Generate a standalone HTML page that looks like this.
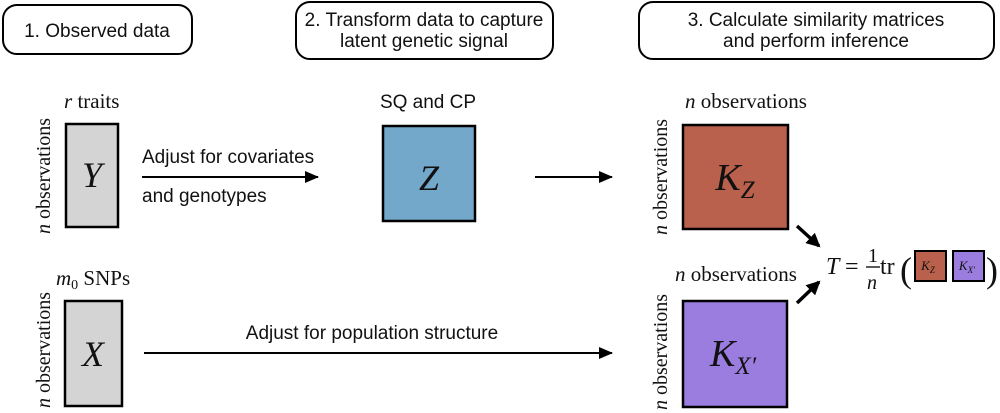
<!DOCTYPE html>
<html><head><meta charset="utf-8"><style>
html,body{margin:0;padding:0;background:#fff;}
svg{display:block;}
.s{font-family:"Liberation Sans",sans-serif;fill:#111;}
.r{font-family:"Liberation Serif",serif;fill:#111;}
</style></head><body>
<svg width="1000" height="413" viewBox="0 0 1000 413" xmlns="http://www.w3.org/2000/svg">
<defs>
<marker id="a" markerWidth="14" markerHeight="12" refX="13" refY="6" orient="auto" markerUnits="userSpaceOnUse"><path d="M0,0 L14,6 L0,12 Z" fill="#000"/></marker>
<marker id="b" markerWidth="14" markerHeight="14" refX="12" refY="7" orient="auto" markerUnits="userSpaceOnUse"><path d="M0,0 L14,7 L0,14 Z" fill="#000"/></marker>
</defs>
<rect x="3" y="5" width="189" height="49" rx="14" fill="#fff" stroke="#000" stroke-width="2"/>
<text class="s" x="97" y="37" font-size="19" text-anchor="middle">1. Observed data</text>
<rect x="296" y="2" width="257" height="57" rx="14" fill="#fff" stroke="#000" stroke-width="2"/>
<text class="s" x="424" y="26" font-size="19" text-anchor="middle">2. Transform data to capture</text>
<text class="s" x="424" y="47" font-size="19" text-anchor="middle">latent genetic signal</text>
<rect x="639" y="2" width="355" height="57" rx="14" fill="#fff" stroke="#000" stroke-width="2"/>
<text class="s" x="816" y="26" font-size="19" text-anchor="middle">3. Calculate similarity matrices</text>
<text class="s" x="816" y="47" font-size="19" text-anchor="middle">and perform inference</text>
<text class="r" x="64" y="108" font-size="21"><tspan font-style="italic">r</tspan>  traits</text>
<rect x="66" y="124" width="52" height="103" fill="#d4d4d4" stroke="#000" stroke-width="2.5"/>
<text class="r" x="92" y="187" font-size="36" font-style="italic" text-anchor="middle">Y</text>
<text class="r" transform="translate(50,176) rotate(-90)" font-size="20" text-anchor="middle"><tspan font-style="italic">n</tspan>  observations</text>
<line x1="142" y1="177" x2="318" y2="177" stroke="#000" stroke-width="2" marker-end="url(#a)"/>
<text class="s" x="142" y="163" font-size="19">Adjust for covariates</text>
<text class="s" x="142" y="202" font-size="19">and genotypes</text>
<text class="s" x="428" y="108" font-size="19" text-anchor="middle">SQ and CP</text>
<rect x="383" y="126" width="92" height="95" fill="#74a8cb" stroke="#000" stroke-width="2.5"/>
<text class="r" x="429" y="190" font-size="36" font-style="italic" text-anchor="middle">Z</text>
<line x1="535" y1="177" x2="612" y2="177" stroke="#000" stroke-width="2" marker-end="url(#a)"/>
<text class="r" x="685" y="108" font-size="21"><tspan font-style="italic">n</tspan>  observations</text>
<rect x="683" y="125" width="105" height="104" fill="#b9614c" stroke="#000" stroke-width="2.5"/>
<text class="r" x="735" y="190" font-size="38" font-style="italic" text-anchor="middle">K<tspan font-size="25" dy="8">Z</tspan></text>
<text class="r" transform="translate(667,177) rotate(-90)" font-size="20" text-anchor="middle"><tspan font-style="italic">n</tspan>  observations</text>
<text class="r" x="56" y="285" font-size="21"><tspan font-style="italic">m</tspan><tspan font-size="14" dy="4">0</tspan><tspan dy="-4"> SNPs</tspan></text>
<rect x="65" y="301" width="57" height="105" fill="#d4d4d4" stroke="#000" stroke-width="2.5"/>
<text class="r" x="93" y="366" font-size="36" font-style="italic" text-anchor="middle">X</text>
<text class="r" transform="translate(50,350) rotate(-90)" font-size="20" text-anchor="middle"><tspan font-style="italic">n</tspan>  observations</text>
<line x1="144" y1="353" x2="612" y2="353" stroke="#000" stroke-width="2" marker-end="url(#a)"/>
<text class="s" x="372" y="339" font-size="19" text-anchor="middle">Adjust for population structure</text>
<text class="r" x="675" y="281" font-size="21"><tspan font-style="italic">n</tspan>  observations</text>
<rect x="683" y="301" width="104" height="106" fill="#9b7de0" stroke="#000" stroke-width="2.5"/>
<text class="r" x="733" y="366" font-size="38" font-style="italic" text-anchor="middle">K<tspan font-size="25" dy="8">X′</tspan></text>
<text class="r" transform="translate(667,352) rotate(-90)" font-size="20" text-anchor="middle"><tspan font-style="italic">n</tspan>  observations</text>
<line x1="797" y1="226" x2="819" y2="246" stroke="#000" stroke-width="3.5" marker-end="url(#b)"/>
<line x1="797" y1="303" x2="819" y2="282" stroke="#000" stroke-width="3.5" marker-end="url(#b)"/>
<text class="r" x="826" y="274" font-size="24" font-style="italic">T</text>
<text class="r" x="845" y="274" font-size="24">=</text>
<text class="r" x="868" y="262" font-size="20">1</text>
<line x1="866" y1="267" x2="880" y2="267" stroke="#000" stroke-width="1.3"/>
<text class="r" x="867" y="289" font-size="20" font-style="italic">n</text>
<text class="r" x="880" y="274" font-size="24">tr</text>
<text class="r" x="900" y="282" font-size="36">(</text>
<rect x="915" y="251" width="31" height="30" fill="#b9614c" stroke="#000" stroke-width="2"/>
<text class="r" x="928" y="270" font-size="13" font-style="italic" text-anchor="middle">K<tspan font-size="9" dy="3">Z</tspan></text>
<rect x="953" y="251" width="31" height="30" fill="#9b7de0" stroke="#000" stroke-width="2"/>
<text class="r" x="967" y="270" font-size="13" font-style="italic" text-anchor="middle">K<tspan font-size="9" dy="3">X′</tspan></text>
<text class="r" x="986" y="282" font-size="36">)</text>
</svg>
</body></html>
